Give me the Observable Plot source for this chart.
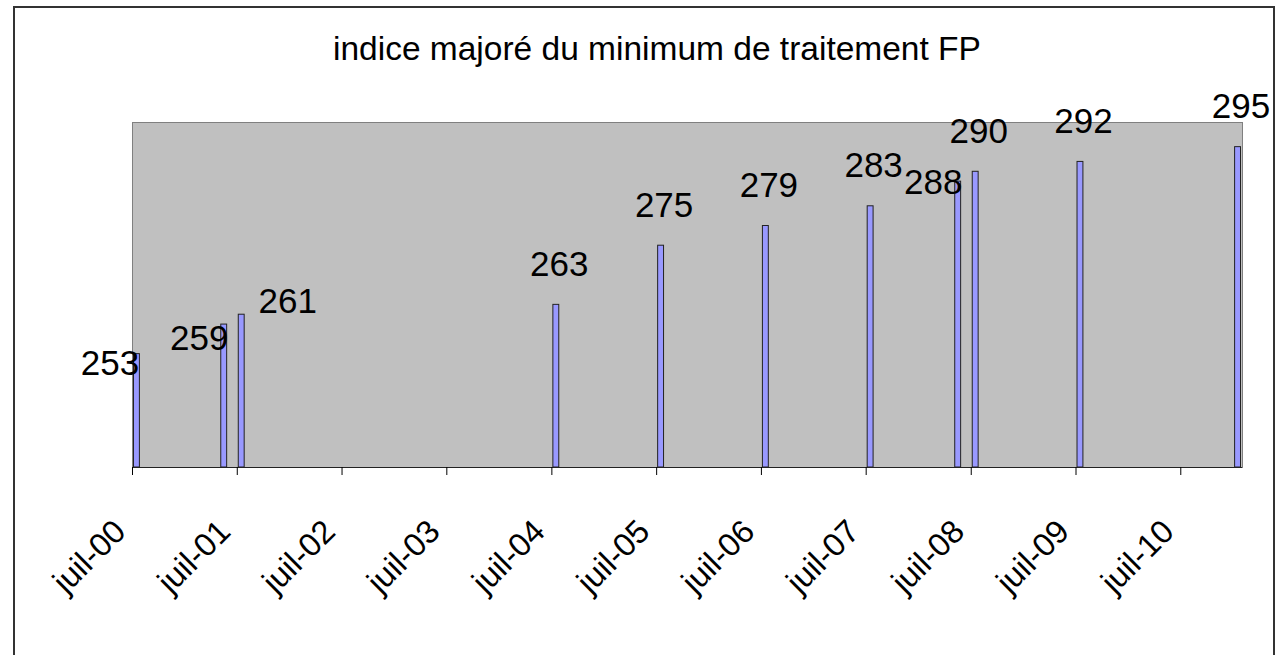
<!DOCTYPE html>
<html><head><meta charset="utf-8">
<script src="https://cdn.jsdelivr.net/npm/d3@7"></script>
<script src="https://cdn.jsdelivr.net/npm/@observablehq/plot@0.6"></script>
<style>
html,body{margin:0;padding:0;background:#fff;overflow:hidden;}
body{width:1285px;height:655px;position:relative;font-family:"Liberation Sans",Arial,sans-serif;}
#border{position:absolute;left:13px;top:6px;width:1262px;height:700px;border:2px solid #333;box-sizing:border-box;}
#title{position:absolute;left:333px;top:32px;white-space:nowrap;font-size:33.5px;line-height:34px;color:#000;}
#chart{position:absolute;left:0;top:0;}
</style></head><body>
<div id="border"></div>
<div id="title">indice majoré du minimum de traitement FP</div>
<div id="chart"></div>
<script>
// --- data ---
const months = ["2000-07","2001-05","2001-07","2004-07","2005-07","2006-07","2007-07","2008-05","2008-07","2009-07","2011-01"];
const values = [253, 259, 261, 263, 275, 279, 283, 288, 290, 292, 295];
const tickMonths = ["2000-07","2001-07","2002-07","2003-07","2004-07","2005-07","2006-07","2007-07","2008-07","2009-07","2010-07"];
const tickLabels = ["juil-00","juil-01","juil-02","juil-03","juil-04","juil-05","juil-06","juil-07","juil-08","juil-09","juil-10"];
const xDomain = ["2000-07","2011-02"];
const yDomain = [230, 300];

// --- build ---
const parse = d3.utcParse("%Y-%m");
const data = months.map((m, i) => {
  const start = parse(m);
  const end = d3.utcMonth.offset(start, 1);
  return {start, end, mid: new Date((+start + +end) / 2), value: values[i]};
});
const ticks = tickMonths.map(parse);

// label nudges (Excel labels dragged by hand)
const nudge = {0: [-27, 10], 1: [-25, 14], 2: [46, -13], 7: [-25, 1]};
const labelMarks = data.map((d, i) => {
  const [dx, dy] = nudge[i] || [3, -40];
  return Plot.text([d], {x: "mid", y: "value", text: d => String(d.value), dx, dy,
    fontSize: 35, fill: "#000", lineAnchor: "middle", textAnchor: "middle"});
});

const chart = Plot.plot({
  width: 1285, height: 655,
  marginLeft: 132, marginRight: 43, marginTop: 122, marginBottom: 188,
  x: {type: "utc", domain: xDomain.map(parse)},
  y: {domain: yDomain, axis: null},
  style: {fontFamily: '"Liberation Sans", Arial, sans-serif', background: "transparent", color: "#000"},
  marks: [
    Plot.frame({fill: "#C0C0C0", stroke: "#808080"}),
    Plot.rectY(data, {x1: "start", x2: "end", y1: () => yDomain[0], y2: "value",
      insetLeft: 1.5, insetRight: 1.5, fill: "#9999FF", stroke: "#222", strokeWidth: 1}),
    Plot.ruleY([yDomain[0]], {stroke: "#222"}),
    Plot.axisX({ticks, tickSize: 8, tickFormat: () => "", stroke: "#000"}),
    Plot.text(ticks, {x: d => d, text: (d, i) => tickLabels[i], frameAnchor: "bottom",
      rotate: -45, textAnchor: "end", lineAnchor: "bottom", dx: -5, dy: 66, fontSize: 32.5, fill: "#000"}),
    ...labelMarks
  ]
});
document.getElementById("chart").appendChild(chart);
</script>
</body></html>
